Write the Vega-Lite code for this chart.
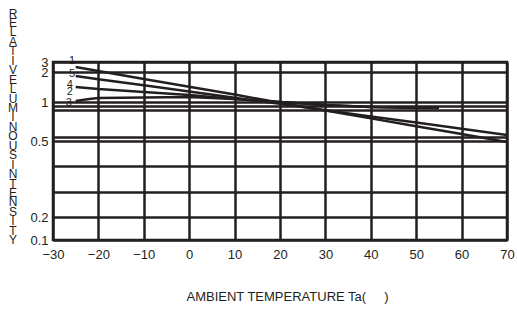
{
  "$schema": "https://vega.github.io/schema/vega-lite/v6.json",
  "width": 454,
  "height": 178,
  "autosize": {"type": "none"},
  "padding": {"left": 53, "top": 62, "right": 10, "bottom": 72},
  "background": "white",
  "config": {
    "font": "Liberation Sans",
    "view": {"stroke": "#231f20", "strokeWidth": 2.5}
  },
  "datasets": {
    "lines": [
      {"series": "1", "x": -25, "y": 2.5},
      {"series": "1", "x": -20, "y": 2.11},
      {"series": "1", "x": -10, "y": 1.77},
      {"series": "1", "x": 0, "y": 1.51},
      {"series": "1", "x": 10, "y": 1.25},
      {"series": "1", "x": 20, "y": 0.99},
      {"series": "1", "x": 30, "y": 0.89},
      {"series": "1", "x": 40, "y": 0.79},
      {"series": "1", "x": 50, "y": 0.69},
      {"series": "1", "x": 60, "y": 0.59},
      {"series": "1", "x": 70, "y": 0.496},
      {"series": "5", "x": -25, "y": 1.87},
      {"series": "5", "x": -20, "y": 1.76},
      {"series": "5", "x": -10, "y": 1.56},
      {"series": "5", "x": 0, "y": 1.35},
      {"series": "5", "x": 10, "y": 1.14},
      {"series": "5", "x": 20, "y": 0.976},
      {"series": "5", "x": 30, "y": 0.895},
      {"series": "5", "x": 40, "y": 0.815},
      {"series": "5", "x": 50, "y": 0.736},
      {"series": "5", "x": 60, "y": 0.656},
      {"series": "5", "x": 70, "y": 0.577},
      {"series": "4/2", "x": -25, "y": 1.5},
      {"series": "4/2", "x": -20, "y": 1.43},
      {"series": "4/2", "x": -10, "y": 1.33},
      {"series": "4/2", "x": 0, "y": 1.23},
      {"series": "4/2", "x": 10, "y": 1.1},
      {"series": "4/2", "x": 20, "y": 1.0},
      {"series": "4/2", "x": 30, "y": 0.96},
      {"series": "4/2", "x": 40, "y": 0.936},
      {"series": "4/2", "x": 50, "y": 0.923},
      {"series": "4/2", "x": 55, "y": 0.923},
      {"series": "3", "x": -25, "y": 1.03},
      {"series": "3", "x": -22, "y": 1.1},
      {"series": "3", "x": -20, "y": 1.13},
      {"series": "3", "x": -10, "y": 1.15},
      {"series": "3", "x": 0, "y": 1.17},
      {"series": "3", "x": 10, "y": 1.1},
      {"series": "3", "x": 20, "y": 1.0},
      {"series": "3", "x": 30, "y": 0.96},
      {"series": "3", "x": 40, "y": 0.936},
      {"series": "3", "x": 55, "y": 0.923}
    ],
    "labels": [
      {"label": "1", "x": -25.8, "y": 3.1},
      {"label": "5", "x": -25.8, "y": 1.95},
      {"label": "4", "x": -26.3, "y": 1.57},
      {"label": "2", "x": -26.3, "y": 1.35},
      {"label": "3", "x": -26.5, "y": 0.99}
    ]
  },
  "layer": [
    {
      "data": {"name": "lines"},
      "mark": {"type": "line", "color": "#231f20", "strokeWidth": 2.5, "clip": true},
      "encoding": {
        "x": {
          "field": "x",
          "type": "quantitative",
          "scale": {"domain": [-30, 70], "nice": false, "zero": false},
          "axis": {
            "values": [-30, -20, -10, 0, 10, 20, 30, 40, 50, 60, 70],
            "tickCount": 30,
            "labelOverlap": false,
            "grid": true,
            "gridColor": "#231f20",
            "gridWidth": 2.5,
            "gridOpacity": 1,
            "domain": false,
            "ticks": false,
            "labelFontSize": 13,
            "labelColor": "#231f20",
            "labelPadding": 8,
            "labelFlush": false,
            "title": "AMBIENT TEMPERATURE Ta(\u00a0\u00a0\u00a0\u00a0\u00a0)",
            "titleFontSize": 13,
            "titleFontWeight": "normal",
            "titleColor": "#231f20",
            "titlePadding": 29,
            "titleX": 234
          }
        },
        "y": {
          "field": "y",
          "type": "quantitative",
          "scale": {
            "type": "linear",
            "domain": [0.1, 0.2, 0.5, 1, 2, 3],
            "range": [178, 155, 79, 40, 10, 0],
            "nice": false,
            "zero": false
          },
          "axis": {
            "values": [0.1, 0.2, 0.3, 0.4, 0.5, 0.55, 0.9, 0.95, 1, 2, 3],
            "tickCount": 30,
            "labelOverlap": false,
            "format": "~g",
            "labelExpr": "indexof([3, 2, 1, 0.5, 0.2, 0.1], datum.value) >= 0 ? datum.label : ''",
            "grid": true,
            "gridColor": "#231f20",
            "gridWidth": 2.5,
            "gridOpacity": 1,
            "domain": false,
            "ticks": false,
            "labelFontSize": 13,
            "labelColor": "#231f20",
            "labelPadding": 5,
            "labelBaseline": "middle",
            "title": ["R","E","L","A","T","I","V","E","L","U","M","I","N","O","U","S","I","N","T","E","N","S","I","T","Y"],
            "titleAngle": 0,
            "titleFontSize": 12,
            "titleFontWeight": "normal",
            "titleColor": "#231f20",
            "titleLineHeight": 9.45,
            "titleAlign": "center",
            "titleBaseline": "top",
            "titleX": -40.5,
            "titleY": -54
          }
        },
        "detail": {"field": "series"}
      }
    },
    {
      "data": {"name": "labels"},
      "mark": {"type": "text", "fontSize": 11, "color": "#231f20", "align": "center", "baseline": "middle"},
      "encoding": {
        "x": {"field": "x", "type": "quantitative"},
        "y": {"field": "y", "type": "quantitative"},
        "text": {"field": "label"}
      }
    }
  ]
}
